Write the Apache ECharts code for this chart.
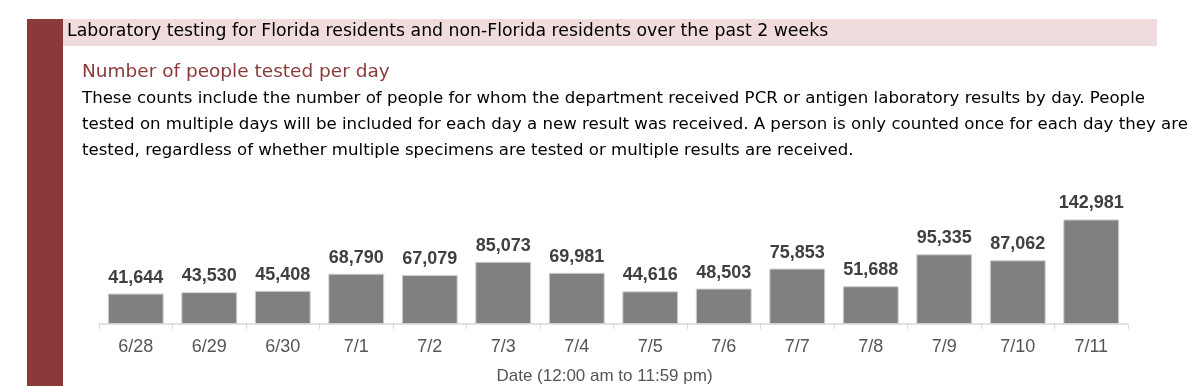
<!DOCTYPE html>
<html><head><meta charset="utf-8">
<script src="https://cdn.jsdelivr.net/npm/echarts@6/dist/echarts.min.js"></script>
<style>html,body{margin:0;padding:0;background:#fff}#c{width:1200px;height:386px}</style>
</head><body><div id="c"></div>
<script>
const categories = ['6/28','6/29','6/30','7/1','7/2','7/3','7/4','7/5','7/6','7/7','7/8','7/9','7/10','7/11'];
const peopleTested = [41644,43530,45408,68790,67079,85073,69981,44616,48503,75853,51688,95335,87062,142981];
const headerText = 'Laboratory testing for Florida residents and non-Florida residents over the past 2 weeks';
const subtitleText = 'Number of people tested per day';
const bodyLines = [
 'These counts include the number of people for whom the department received PCR or antigen laboratory results by day. People',
 'tested on multiple days will be included for each day a new result was received. A person is only counted once for each day they are',
 'tested, regardless of whether multiple specimens are tested or multiple results are received.'
];
const axisTitle = 'Date (12:00 am to 11:59 pm)';

const FN = '"Liberation Sans",Arial,sans-serif';
const FS = '"DejaVu Sans",sans-serif';
const chart = echarts.init(document.getElementById('c'));
const g = [
 {type:'rect', shape:{x:27,y:19,width:36,height:367}, style:{fill:'#8B3A3A'}},
 {type:'rect', shape:{x:63,y:19,width:1094,height:27}, style:{fill:'#F0DCDC'}},
 {type:'text', x:67, y:32, style:{text:headerText, fill:'#000', font:'17.3px '+FS, verticalAlign:'middle'}},
 {type:'text', x:82, y:72, style:{text:subtitleText, fill:'#8B3A3A', font:'18.5px '+FS, verticalAlign:'middle'}}
];
bodyLines.forEach((t,i)=>g.push({type:'text', x:82, y:99+26*i, style:{text:t, fill:'#000', font:'16.6px '+FS, verticalAlign:'middle'}}));
chart.setOption({
 animation:false,
 graphic:g,
 grid:{left:99, right:72, top:207, bottom:58, containLabel:false},
 xAxis:{type:'category', data:categories,
   axisLine:{lineStyle:{color:'#d9d9d9', width:1.5}},
   axisTick:{show:true, length:5, lineStyle:{color:'#d9d9d9'}},
   axisLabel:{color:'#555', fontSize:18, fontFamily:FN, margin:14},
   name:axisTitle, nameLocation:'middle', nameGap:44,
   nameTextStyle:{color:'#555', fontSize:17, fontFamily:FN, padding:[0,18,0,0]}},
 yAxis:{type:'value', min:0, max:160000, show:false, splitLine:{show:false}},
 series:[{type:'bar', data:peopleTested, barCategoryGap:'24%',
   itemStyle:{color:'#808080', borderColor:'#d0d0d0', borderWidth:1},
   label:{show:true, position:'top', distance:7, color:'#404040', fontSize:18, fontWeight:'bold', fontFamily:FN,
     formatter:p=>p.value.toLocaleString('en-US')}}]
});
</script></body></html>
